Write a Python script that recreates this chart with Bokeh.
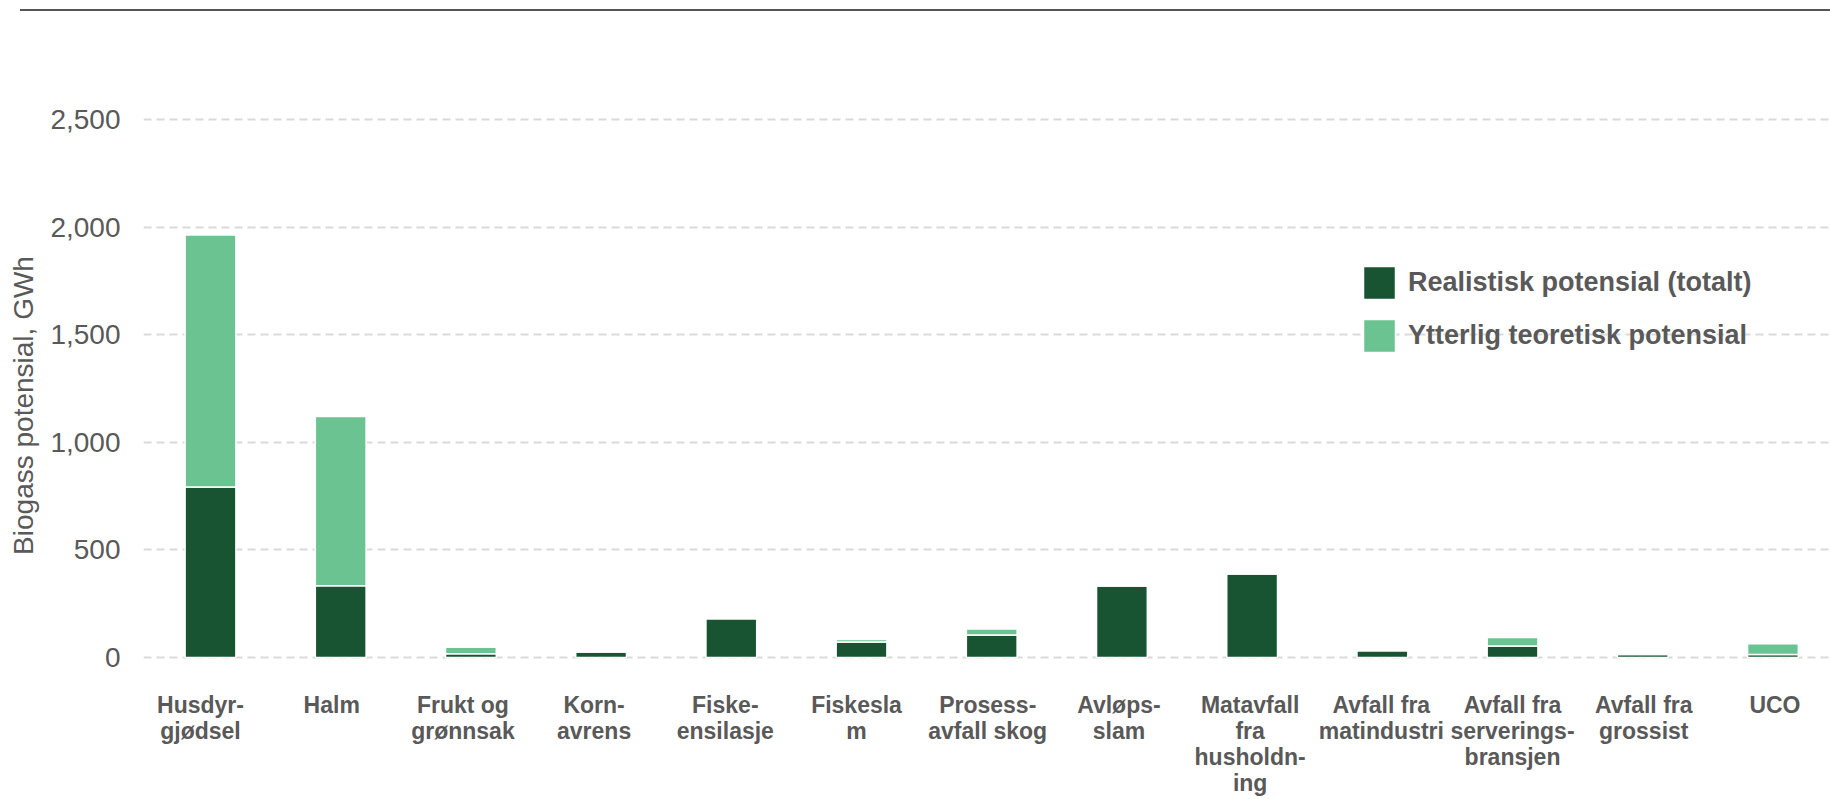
from bokeh.plotting import figure
from bokeh.layouts import column, row
from bokeh.models import Range1d, FixedTicker, NumeralTickFormatter, ColumnDataSource, Div, Spacer
from bokeh.core.properties import value
from bokeh.embed import file_html
from bokeh.resources import INLINE

# ---- data ----
categories = [
    "Husdyr-\ngjødsel", "Halm", "Frukt og\ngrønnsak", "Korn-\navrens",
    "Fiske-\nensilasje", "Fiskesla\nm", "Prosess-\navfall skog", "Avløps-\nslam",
    "Matavfall\nfra\nhusholdn-\ning", "Avfall fra\nmatindustri",
    "Avfall fra\nserverings-\nbransjen", "Avfall fra\ngrossist", "UCO",
]
realistic = [792, 334, 17, 25, 180, 72, 104, 332, 388, 31, 53, 14, 14]
additional = [1172, 786, 31, 0, 0, 12, 29, 0, 0, 0, 40, 0, 50]
series_names = ["Realistisk potensial (totalt)", "Ytterlig teoretisk potensial"]
y_ticks = [0, 500, 1000, 1500, 2000, 2500]
y_title = "Biogass potensial, GWh"

# ---- styles ----
DARK = "#185432"
LIGHT = "#6BC391"
TEXT = "#595959"
FONT = "Liberation Sans"

W, H = 1830, 799
RULE_H = 11
RULE_LEFT = 20
LEFT = 143
FW, FH = W - LEFT, H - RULE_H

idx = list(range(len(categories)))
source = ColumnDataSource(dict(
    x=idx, realistic=realistic, additional=additional, label=categories,
    dx=[-10 + i for i in idx],
))

p = figure(
    frame_width=FW, frame_height=FH,
    min_border_left=LEFT, min_border_right=0, min_border_top=0, min_border_bottom=0,
    x_range=Range1d(-0.5146, 12.442), y_range=Range1d(-660.2, 3003.1),
    x_axis_type=None, output_backend="svg", toolbar_location=None,
)
p.outline_line_color = None
p.background_fill_color = "white"
p.border_fill_color = "white"

p.vbar_stack(
    ["realistic", "additional"], x="x", width=0.39, source=source,
    fill_color=[DARK, LIGHT], line_color="white", line_width=1.5,
    legend_label=series_names,
)

# category labels
p.text(
    x="x", y=0, text="label", source=source, x_offset="dx", y_offset=35,
    text_align="center", text_baseline="top", text_line_height=1.0,
    text_font=value(FONT), text_font_style="bold", text_font_size="23px",
    text_color=TEXT,
)

# y axis
ax = p.yaxis[0]
ax.ticker = FixedTicker(ticks=y_ticks)
ax.formatter = NumeralTickFormatter(format="0,0")
ax.axis_line_color = None
ax.major_tick_line_color = None
ax.minor_tick_line_color = None
ax.major_tick_out = 0
ax.major_label_standoff = 23
ax.major_label_text_font = FONT
ax.major_label_text_font_size = "28px"
ax.major_label_text_color = TEXT
ax.axis_label = y_title
ax.axis_label_text_font = FONT
ax.axis_label_text_font_size = "28px"
ax.axis_label_text_font_style = "normal"
ax.axis_label_text_color = TEXT
ax.axis_label_standoff = 8

p.xgrid.visible = False
p.ygrid.ticker = FixedTicker(ticks=y_ticks)
p.ygrid.grid_line_color = "#D9D9D9"
p.ygrid.grid_line_width = 2
p.ygrid.grid_line_dash = "8 5"

# legend
lg = p.legend[0]
lg.location = (1216, 443)
lg.orientation = "vertical"
lg.padding = 0
lg.margin = 0
lg.border_line_color = None
lg.background_fill_alpha = 0
lg.glyph_width = 40
lg.glyph_height = 41
lg.label_height = 41
lg.spacing = 12
lg.label_standoff = 9
lg.label_text_font = FONT
lg.label_text_font_style = "bold"
lg.label_text_font_size = "27px"
lg.label_text_color = TEXT

# top rule (starts 20 px from the left edge)
rule = Div(
    text="", width=W - RULE_LEFT, height=RULE_H, margin=0,
    styles={"border-bottom": "2px solid #555555", "box-sizing": "border-box"},
)
top = row(Spacer(width=RULE_LEFT, height=RULE_H, margin=0), rule, spacing=0)

layout = column(top, p, spacing=0)
open("out.html", "w").write(file_html(layout, INLINE))
